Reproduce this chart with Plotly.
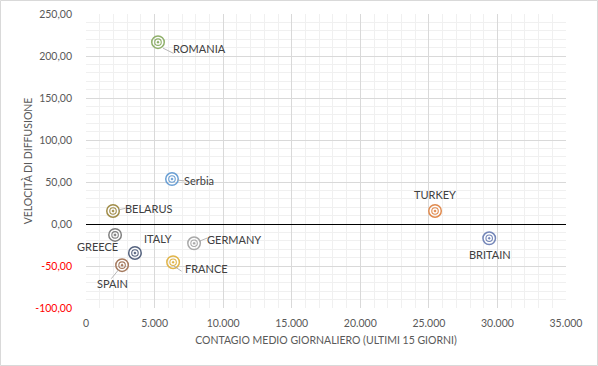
import plotly.graph_objects as go

countries = ["ROMANIA", "Serbia", "BELARUS", "GREECE", "ITALY", "SPAIN", "FRANCE", "GERMANY", "TURKEY", "BRITAIN"]
contagio = [5250, 6270, 1970, 2120, 3570, 2630, 6350, 7880, 25450, 29400]
velocita = [216.5, 53.5, 15.5, -13.0, -34.5, -49.0, -45.5, -23.0, 15.5, -17.0]
colors = ["#8FB06A", "#6A9FD4", "#A08C48", "#7F7F7F", "#55637F", "#A57A5E", "#E0B448", "#A9A9A9", "#E08A4E", "#7486B8"]
# label offsets in pixels (dx, dy) and anchor
label_pos = [(13, 6, "left"), (10, 1, "left"), (10, -2, "left"), (-18, 12, "center"),
             (7, -14, "left"), (-10, 18, "center"), (10, 6, "left"), (11, -4, "left"),
             (0, -16, "center"), (1, 16, "center")]

x_ticks = [0, 5000, 10000, 15000, 20000, 25000, 30000, 35000]
y_ticks = [-100, -50, 0, 50, 100, 150, 200, 250]

def fmt_x(v):
    return f"{v:,}".replace(",", ".")

def fmt_y(v):
    s = f"{v:.2f}".replace(".", ",")
    if v < 0:
        return f"<span style='color:#FF0000'>{s}</span>"
    return s

fig = go.Figure()
for c, x, y, col in zip(countries, contagio, velocita, colors):
    fig.add_trace(go.Scatter(x=[x], y=[y], mode="markers", showlegend=False, hoverinfo="skip",
                             marker=dict(symbol="circle-open-dot", size=12.5, color=col, line=dict(width=1.5, color=col))))
    fig.add_trace(go.Scatter(x=[x], y=[y], mode="markers", showlegend=False, hoverinfo="skip",
                             marker=dict(symbol="circle-open", size=6.5, color=col, line=dict(width=1.1, color=col))))

annotations = []
for c, x, y, (dx, dy, anc) in zip(countries, contagio, velocita, label_pos):
    annotations.append(dict(x=x, y=y, xref="x", yref="y", text=c, showarrow=False,
                            xshift=dx, yshift=-dy, xanchor=anc, yanchor="middle",
                            font=dict(family="Lato", size=11, color="#404040")))

leaders = {"ROMANIA": (5, 6, 12, 6), "Serbia": (5, 1, 9, 1), "BELARUS": (5, -1, 9, -2),
           "SPAIN": (-3, 4, -9, 11), "FRANCE": (1, 4, 9, 6), "GERMANY": (5, -2, 10, -4)}
for c, x, y in zip(countries, contagio, velocita):
    if c in leaders:
        a0, b0, a1, b1 = leaders[c]
        annotations.append(dict(x=x, y=y, xref="x", yref="y", text="", showarrow=True,
                                arrowhead=0, arrowwidth=0.8, arrowcolor="#A6A6A6",
                                ax=a1, ay=b1, xshift=a0, yshift=-b0, standoff=0))

fig.update_layout(
    width=598, height=366,
    margin=dict(l=86, r=32, t=14, b=58, autoexpand=False),
    paper_bgcolor="white", plot_bgcolor="white",
    font=dict(family="Lato", size=10.5, color="#595959"),
    annotations=annotations,
    shapes=[dict(type="rect", xref="paper", yref="paper",
                 x0=-86/480 + 0.5/480, x1=1 + 32/480 - 0.5/480, y0=-58/294 + 0.5/294, y1=1 + 14/294 - 0.5/294,
                 line=dict(color="#D9D9D9", width=1), layer="below")],
)
fig.update_xaxes(range=[0, 35000], tickvals=x_ticks, ticktext=[fmt_x(v) for v in x_ticks],
                 showgrid=True, gridcolor="#D9D9D9", gridwidth=1, zeroline=False, automargin=False,
                 minor=dict(dtick=1000, showgrid=True, gridcolor="#F0F0F0"),
                 showline=False, ticks="", ticklabelstandoff=7,
                 title=dict(text="CONTAGIO MEDIO GIORNALIERO (ULTIMI 15 GIORNI)", font=dict(size=10.5, color="#595959"), standoff=9))
fig.update_yaxes(range=[-100, 250], tickvals=y_ticks, ticktext=[fmt_y(v) for v in y_ticks],
                 showgrid=True, gridcolor="#D9D9D9", gridwidth=1, automargin=False,
                 zeroline=True, zerolinecolor="#000000", zerolinewidth=1.4,
                 minor=dict(dtick=10, showgrid=True, gridcolor="#F0F0F0"),
                 showline=False, ticks="", ticklabelstandoff=13,
                 title=dict(text="VELOCITÀ DI DIFFUSIONE", font=dict(size=10.5, color="#595959"), standoff=0))

fig.write_html("out.html", config={"displayModeBar": False},
               post_script="document.body.style.margin='0';")
